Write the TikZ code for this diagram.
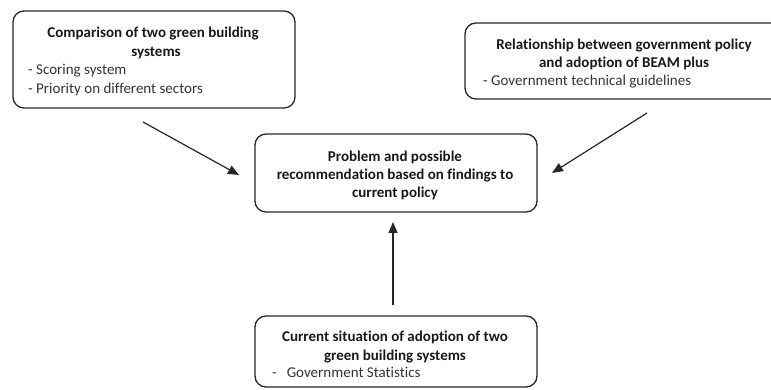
\documentclass[tikz,border=0pt]{standalone}
\usepackage{fontspec}
\setmainfont{Carlito}[Ligatures=NoCommon]
\usetikzlibrary{arrows.meta}
\begin{document}
\begin{tikzpicture}[x=1pt,y=1pt,
  box/.style={draw=black!85, line width=1.3pt, rounded corners=11pt, inner sep=0pt},
  title/.style={font=\fontsize{15}{18}\selectfont\bfseries, text=black!90, inner sep=0pt, anchor=base},
  item/.style={font=\fontsize{15}{18}\selectfont, text=black!80, inner sep=0pt, anchor=base west},
  conn/.style={draw=black!85, line width=1.2pt, -{Triangle[length=11pt,width=9pt]}}]
\useasboundingbox (0,0) rectangle (771,390);
\clip (0,0) rectangle (771,390);
% boxes
\node[box, minimum width=282pt, minimum height=97pt] (b1) at (154,330.5) {};
\node[box, minimum width=318pt, minimum height=76pt] (b2) at (624,329) {};
\node[box, minimum width=282pt, minimum height=78pt] (b3) at (396,217) {};
\node[box, minimum width=282pt, minimum height=71pt] (b4) at (396,38.5) {};
% box 1 text
\node[title] (t1a) at (153,352.5) {Comparison of two green building};
\node[title] (t1b) at (156,333.5) {systems};
\node[item] (t1c) at (28,315.5) {- Scoring system};
\node[item] (t1d) at (28,296.5) {- Priority on different sectors};
% box 2 text
\node[title] (t2a) at (624,340.5) {Relationship between government policy};
\node[title] (t2b) at (624,322.5) {and adoption of BEAM plus};
\node[item] (t2c) at (483,304.5) {- Government technical guidelines};
% box 3 text
\node[title] (t3a) at (395,228.5) {Problem and possible};
\node[title] (t3b) at (395,210.5) {recommendation based on findings to};
\node[title] (t3c) at (395,192.5) {current policy};
% box 4 text
\node[title] (t4a) at (395,48.5) {Current situation of adoption of two};
\node[title] (t4b) at (395,29.5) {green building systems};
\node[item] (t4c) at (272,12.5) {-\hspace{10pt}Government Statistics};
% connectors
\coordinate (s1) at (143,268);
\coordinate (e1) at (239,215);
\coordinate (s2) at (647,277);
\coordinate (e2) at (552,217);
\coordinate (s3) at (393,85);
\coordinate (e3) at (393,168);
\draw[conn] (s1) -- (e1);
\draw[conn] (s2) -- (e2);
\draw[conn] (s3) -- (e3);
\end{tikzpicture}
\end{document}
